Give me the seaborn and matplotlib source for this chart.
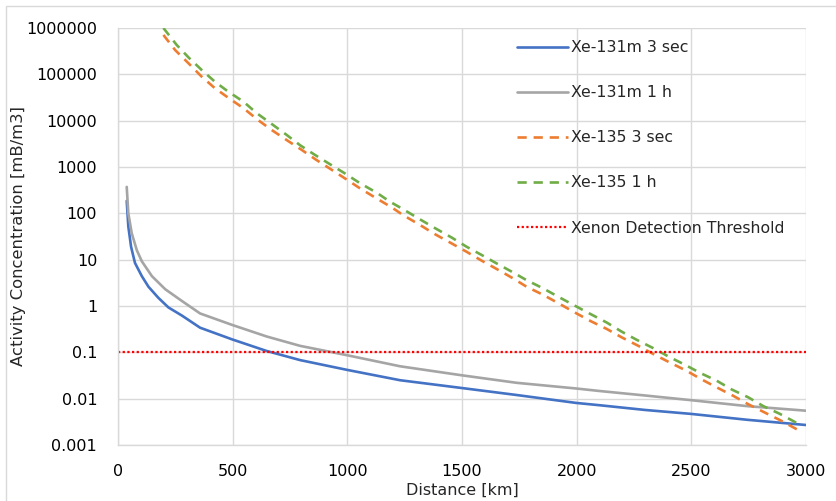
import numpy as np
import pandas as pd
import matplotlib
matplotlib.use("Agg")
import matplotlib.pyplot as plt
import seaborn as sns
from matplotlib.ticker import FixedLocator, FuncFormatter, NullLocator
from matplotlib.patches import Rectangle

# ---- data ----
xe131m_3s_km = [38, 45, 57, 74, 104, 133, 176, 220, 279, 358, 498, 648, 794, 997, 1230,
                1498, 1738, 1997, 2102, 2299, 2497, 2744, 3000]
xe131m_3s_val = [186, 52, 19, 8.5, 4.4, 2.6, 1.5, 0.93, 0.62, 0.34, 0.19, 0.107, 0.068, 0.042, 0.025,
                 0.017, 0.012, 0.0081, 0.0072, 0.0057, 0.0047, 0.0035, 0.0027]

xe131m_1h_km = [38, 45, 60, 82, 104, 148, 206, 279, 358, 498, 648, 794, 997, 1230,
                1498, 1738, 1997, 2102, 2299, 2497, 2744, 3000]
xe131m_1h_val = [372, 100, 37, 16, 9.2, 4.4, 2.3, 1.28, 0.69, 0.39, 0.22, 0.138, 0.087, 0.050,
                 0.032, 0.022, 0.0166, 0.0146, 0.0117, 0.0093, 0.0069, 0.0055]

xe135_3s_km = [198, 249, 307, 365, 423, 488, 547, 612, 670, 736, 801, 866, 932, 997, 1055,
               1128, 1193, 1244, 1317, 1382, 1455, 1520, 1586, 1651, 1717, 1782, 1854, 1920,
               1993, 2058, 2131, 2196, 2269, 2334, 2407, 2479, 2545, 2610, 2683, 2748, 2821,
               2894, 2966, 2975]
xe135_3s_val = [708000, 335000, 174000, 89000, 50000, 29500, 18600, 10200, 6300, 3800, 2340,
                1410, 870, 537, 347, 209, 135, 91, 56, 35.5, 22.4, 14.8, 9.5, 6.3, 4.1, 2.6,
                1.74, 1.15, 0.72, 0.48, 0.32, 0.211, 0.138, 0.092, 0.060, 0.040, 0.026, 0.0176,
                0.0115, 0.0076, 0.0050, 0.0033, 0.0021, 0.0019]

xe135_1h_km = [198, 256, 307, 365, 423, 481, 547, 605, 670, 736, 794, 859, 924, 990, 1055,
               1128, 1186, 1244, 1317, 1382, 1455, 1520, 1586, 1651, 1717, 1782, 1854, 1920,
               1993, 2058, 2131, 2196, 2262, 2334, 2407, 2472, 2538, 2610, 2676, 2748, 2814,
               2886, 2959, 2975]
xe135_1h_val = [1000000, 430000, 233000, 124000, 69000, 42200, 25700, 14500, 8500, 4900, 2950,
                1820, 1150, 724, 447, 279, 178, 122, 74, 48, 30, 19, 12.6, 8.3, 5.5, 3.6, 2.4,
                1.58, 1.01, 0.68, 0.44, 0.28, 0.186, 0.123, 0.078, 0.054, 0.036, 0.0245,
                0.0158, 0.0107, 0.0069, 0.0047, 0.0030, 0.0027]

threshold = 0.1

series_names = ["Xe-131m 3 sec", "Xe-131m 1 h", "Xe-135 3 sec", "Xe-135 1 h"]
threshold_label = "Xenon Detection Threshold"
x_ticks = [0, 500, 1000, 1500, 2000, 2500, 3000]
y_ticks = [0.001, 0.01, 0.1, 1, 10, 100, 1000, 10000, 100000, 1000000]
x_label = "Distance [km]"
y_label = "Activity Concentration [mB/m3]"

# ---- plot ----
sns.set_theme(style="white")
plt.rcParams['font.family'] = ['DejaVu Sans']

fig = plt.figure(figsize=(8.36, 5.01), dpi=100)
ax = fig.add_axes([118/836, 1-445/501, (806-118)/836, (445-28)/501])

styles = [
    (xe131m_3s_km, xe131m_3s_val, "#4472C4", "-"),
    (xe131m_1h_km, xe131m_1h_val, "#A5A5A5", "-"),
    (xe135_3s_km, xe135_3s_val, "#ED7D31", (0, (3.5, 2.6))),
    (xe135_1h_km, xe135_1h_val, "#70AD47", (0, (3.5, 2.6))),
]
for name, (xs, ys, col, ls) in zip(series_names, styles):
    df = pd.DataFrame({"km": xs, "val": ys})
    sns.lineplot(data=df, x="km", y="val", ax=ax, color=col, linestyle=ls,
                 linewidth=1.9, label=name, clip_on=True)

ax.axhline(threshold, color="#FF0000", linestyle=(0, (1, 1.1)), linewidth=1.6,
           label=threshold_label)

ax.set_yscale("log")
ax.set_xlim(0, 3000)
ax.set_ylim(0.001, 1000000)
ax.xaxis.set_major_locator(FixedLocator(x_ticks))
ax.yaxis.set_major_locator(FixedLocator(y_ticks))
ax.yaxis.set_minor_locator(NullLocator())

def fmt(v, pos):
    return f"{v:.6f}".rstrip('0').rstrip('.')
ax.yaxis.set_major_formatter(FuncFormatter(fmt))
ax.xaxis.set_major_formatter(FuncFormatter(lambda v, p: f"{int(v)}"))

ax.grid(True, color="#D9D9D9", linewidth=1.0)
ax.set_axisbelow(True)
for side in ["top", "right"]:
    ax.spines[side].set_visible(False)
for side in ["left", "bottom"]:
    ax.spines[side].set_color("#D9D9D9")
    ax.spines[side].set_linewidth(1.0)

ax.tick_params(axis="both", labelsize=11.5, colors="black", length=0)
ax.tick_params(axis="x", pad=14)
ax.tick_params(axis="y", pad=15)
ax.set_xlabel(x_label, fontsize=11.5)
ax.set_ylabel(y_label, fontsize=11.8)
ax.xaxis.set_label_coords(0.5, -0.09)
ax.yaxis.set_label_coords(-0.133, 0.5)

leg = ax.legend(loc="upper left", bbox_to_anchor=(0.56, 1.005), frameon=False,
                fontsize=11.3, labelspacing=1.92, handlelength=3.2, handletextpad=0.2)

fig.patches.append(Rectangle((6/836, -0.01), 1.0, 1-6/501 + 0.01, transform=fig.transFigure,
                             fill=False, edgecolor="#D9D9D9", linewidth=1.0))

fig.savefig("out.png", dpi=100)
